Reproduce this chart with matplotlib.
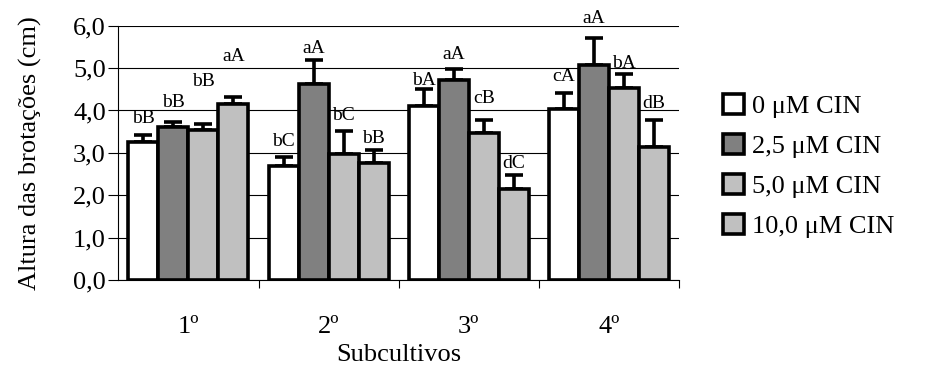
import matplotlib
matplotlib.use("Agg")
import matplotlib.pyplot as plt
import numpy as np

plt.rcParams['font.family'] = ['Liberation Serif', 'DejaVu Serif']

categories = ["1º", "2º", "3º", "4º"]
series = ["0 μM CIN", "2,5 μM CIN", "5,0 μM CIN", "10,0 μM CIN"]
values = [
    [3.26, 2.69, 4.10, 4.04],
    [3.60, 4.62, 4.72, 5.07],
    [3.54, 2.97, 3.46, 4.52],
    [4.15, 2.75, 2.14, 3.14],
]
errors = [
    [0.16, 0.21, 0.40, 0.38],
    [0.12, 0.57, 0.27, 0.63],
    [0.14, 0.55, 0.31, 0.35],
    [0.16, 0.32, 0.33, 0.63],
]
letters = [
    ["bB", "bC", "bA", "cA"],
    ["bB", "aA", "aA", "aA"],
    ["bB", "bC", "cB", "bA"],
    ["aA", "bB", "dC", "dB"],
]
letter_y = [
    [3.82, 3.26, 4.70, 4.81],
    [4.18, 5.46, 5.31, 6.18],
    [4.68, 3.89, 4.28, 5.11],
    [5.27, 3.34, 2.75, 4.17],
]
colors = ["#ffffff", "#808080", "#c0c0c0", "#c0c0c0"]

fig = plt.figure(figsize=(9.31, 3.65), dpi=100)
ax = fig.add_axes([0.1271, 0.2329, 0.6023, 0.6966])

x = np.arange(len(categories))
w = 0.214
for i in range(4):
    pos = x + (i - 1.5) * w
    ax.bar(pos, values[i], width=w, color=colors[i], edgecolor="black",
           linewidth=2.6, label=series[i], zorder=3)
    ax.errorbar(pos, values[i], yerr=[np.zeros(4), errors[i]], fmt="none",
                ecolor="black", elinewidth=2.6, capsize=6.5, capthick=2.6, zorder=2)
    for j in range(4):
        ax.text(pos[j], letter_y[i][j], letters[i][j], ha="center", va="center",
                fontsize=14, zorder=4)

ax.set_ylim(0, 6)
ax.set_xlim(-0.5, 3.5)
ax.set_yticks(np.arange(0, 6.01, 1.0))
ax.set_yticklabels([f"{v:.1f}".replace(".", ",") for v in np.arange(0, 6.01, 1.0)], fontsize=19)
ax.yaxis.grid(True, color="black", linewidth=0.8, zorder=0)
ax.set_axisbelow(True)
ax.set_xticks(x)
ax.set_xticklabels(categories, fontsize=19)
ax.tick_params(axis="x", which="major", length=0, pad=26)
ax.set_xticks([0.5, 1.5, 2.5, 3.5], minor=True)
ax.tick_params(axis="x", which="minor", length=6, width=0.8, direction="out")
ax.tick_params(axis="y", length=7, width=0.8, direction="out", pad=2)
for s in ["top", "right"]:
    ax.spines[s].set_visible(False)
ax.spines["left"].set_linewidth(0.8)
ax.spines["bottom"].set_linewidth(0.8)
ax.set_xlabel("Subcultivos", fontsize=19, labelpad=4)
ax.set_ylabel("Altura das brotações (cm)", fontsize=19, labelpad=22)

leg = ax.legend(loc="center left", bbox_to_anchor=(1.078, 0.449), frameon=False,
                fontsize=19, handlelength=0.8, handleheight=0.8, handletextpad=0.3,
                labelspacing=0.6, borderpad=0, borderaxespad=0)
fig.savefig("out.png", dpi=100)
